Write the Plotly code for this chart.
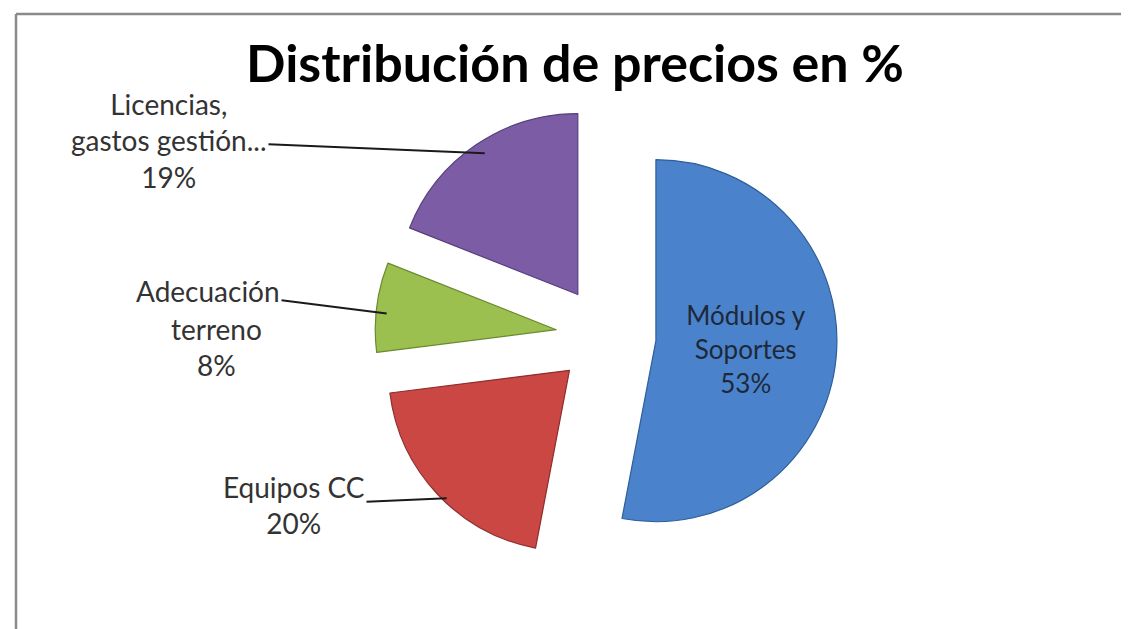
import math
import plotly.graph_objects as go

# Data
labels = ["Módulos y Soportes", "Equipos CC", "Adecuación terreno",
          "Licencias, gastos gestión..."]
label_text = ["Módulos y<br>Soportes", "Equipos CC", "Adecuación<br>terreno",
              "Licencias,<br>gastos gestión..."]
values = [53, 20, 8, 19]
colors = ["#4A83CB", "#CB4744", "#9BC04F", "#7D5CA6"]
edge_colors = ["#2E5E97", "#8C2E2B", "#6A8A30", "#56407C"]

W, H = 1129, 629
pull = 0.277
# where the pie should end up (pixels)
cx, cy, r = 605, 334, 181
half = r * (1 + pull)
# plotly draws the pulled pie a few px off the domain centre
dx, dy = 7, 6

fig = go.Figure(go.Pie(
    labels=labels,
    values=values,
    sort=False,
    direction="clockwise",
    rotation=0,
    pull=[pull] * len(values),
    marker=dict(colors=colors, line=dict(color=edge_colors, width=1.2)),
    text=[label_text[0] + "<br>53%", "", "", ""],
    textinfo="text",
    textposition=["inside", "none", "none", "none"],
    insidetextorientation="horizontal",
    insidetextfont=dict(family="Lato", size=26, color="#1E2838"),
    hoverinfo="label+percent",
    domain=dict(x=[(cx - dx - half) / W, (cx - dx + half) / W],
                y=[1 - (cy - dy + half) / H, 1 - (cy - dy - half) / H]),
))

label_font = dict(family="Lato", size=28, color="#333333")

# outside labels; the leader line leaves from the first text line
tails = {1: (286, 497), 2: (200, 283), 3: (161, 132)}
total = sum(values)
start = 0.0
for i, v in enumerate(values):
    mid = math.radians((start + v / 2) / total * 360)
    start += v
    if i not in tails:
        continue
    hx = cx + (r * (1 + pull) - 3) * math.sin(mid)
    hy = cy - (r * (1 + pull) - 3) * math.cos(mid)
    tx, ty = tails[i]
    txt = f"{label_text[i]}<br>{values[i]}%"
    if i == 2:
        first, rest = label_text[i].split("<br>")
        txt = first
        fig.add_annotation(
            x=(tx + 8) / W, y=1 - (ty + 56) / H, xref="paper", yref="paper",
            xanchor="center", yanchor="middle",
            text=f"{rest}<br>{values[i]}%", showarrow=False,
            font=label_font, align="center",
        )
    fig.add_annotation(
        x=hx / W, y=1 - hy / H, xref="paper", yref="paper",
        text=txt,
        showarrow=True, arrowhead=0, arrowwidth=2, arrowcolor="#1a1a1a",
        ax=tx - hx, ay=ty - hy,
        font=label_font, align="center",
    )

# chart frame (top and left edges visible)
fig.add_shape(type="line", xref="paper", yref="paper",
              x0=8 / W, x1=1, y0=1 - 6 / H, y1=1 - 6 / H,
              line=dict(color="#8a8a8a", width=2.5))
fig.add_shape(type="line", xref="paper", yref="paper",
              x0=8 / W, x1=8 / W, y0=0, y1=1 - 6 / H,
              line=dict(color="#8a8a8a", width=2.5))

fig.update_layout(
    width=W, height=H,
    margin=dict(l=0, r=0, t=0, b=0),
    paper_bgcolor="white",
    showlegend=False,
    title=dict(text="<b>Distribución de precios en %</b>",
               x=567 / W, xanchor="center", y=1 - 56 / H, yanchor="middle",
               font=dict(family="Lato", size=52, color="black")),
)

fig.write_html("out.html")
